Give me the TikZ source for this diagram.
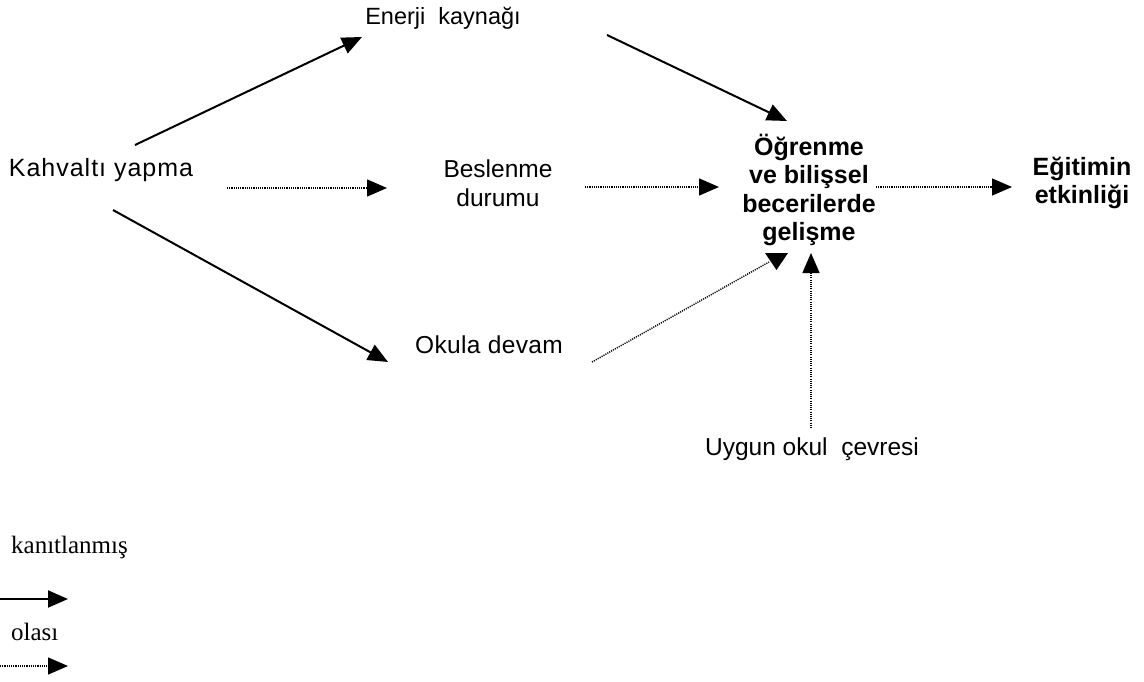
\documentclass[tikz,border=0pt]{standalone}
\usepackage{fontspec}
\setmainfont{Liberation Sans}
\newfontfamily\legendfont{Liberation Serif}
\usetikzlibrary{arrows.meta}
\tikzset{
  lbl/.style={inner sep=0pt, font=\fontsize{24.5}{28.5}\selectfont, align=center},
  blbl/.style={lbl, font=\fontsize{25}{28.5}\selectfont\bfseries},
  leg/.style={inner sep=0pt, font=\fontsize{25}{29}\selectfont\legendfont, anchor=base west},
  tip/.style={-{Triangle[length=20pt,width=17pt]}},
  proven/.style={tip, line width=2pt},
  possible/.style={tip, line width=1.4pt, dash pattern=on 1.1pt off 1.1pt},
}
\begin{document}
\begin{tikzpicture}[x=1pt,y=-1pt]
\useasboundingbox[fill=white] (0,0) rectangle (1144,682);
% labels
\node[lbl, anchor=base, font=\fontsize{23.5}{28}\selectfont] (enerji) at (443,25) {Enerji\ \ kaynağı};
\node[lbl, anchor=base, font=\fontsize{25}{28}\selectfont\addfontfeatures{LetterSpace=4}] (kahv) at (101,177) {Kahvaltı yapma};
\node[lbl, anchor=center] (besl) at (498,183) {Beslenme\\durumu};
\node[lbl, anchor=base, font=\fontsize{24.5}{28}\selectfont\addfontfeatures{LetterSpace=1.5}] (okula) at (489,353) {Okula devam};
\node[blbl, anchor=center] (ogr) at (809,190) {Öğrenme\\ve bilişsel\\becerilerde\\gelişme};
\node[blbl, anchor=center] (egit) at (1082,183) {Eğitimin\\etkinliği};
\node[lbl, anchor=base] (uygun) at (812,455) {Uygun okul\ \ çevresi};
% connector ends
\coordinate (k1) at (135,145);  \coordinate (e1) at (362,37);
\coordinate (e2) at (607,35);   \coordinate (o1) at (787,121);
\coordinate (k2) at (227,188);  \coordinate (b1) at (387,188);
\coordinate (b2) at (585,187);  \coordinate (o2) at (719,187);
\coordinate (k3) at (113,210);  \coordinate (d1) at (388,362);
\coordinate (d2) at (592,362);  \coordinate (o3) at (769,262);
\coordinate (u1) at (811,428);  \coordinate (o4) at (811,253);
\coordinate (o5) at (876,187);  \coordinate (g1) at (1012,187);
% connectors
\draw[proven] (k1) -- (e1);
\draw[proven] (e2) -- (o1);
\draw[possible] (k2) -- (b1);
\draw[possible] (b2) -- (o2);
\draw[proven] (k3) -- (d1);
\draw[possible, -] (d2) -- (o3);
\fill (765,253) -- (788,253) -- (776.5,270) -- cycle;
\draw[possible] (u1) -- (o4);
\draw[possible] (o5) -- (g1);
% legend
\node[leg] (l1) at (11,553) {kanıtlanmış};
\coordinate (ls1) at (0,599); \coordinate (le1) at (68,599);
\draw[proven] (ls1) -- (le1);
\node[leg] (l2) at (11,640) {olası};
\coordinate (ls2) at (0,666); \coordinate (le2) at (68,666);
\draw[possible] (ls2) -- (le2);
\end{tikzpicture}
\end{document}
